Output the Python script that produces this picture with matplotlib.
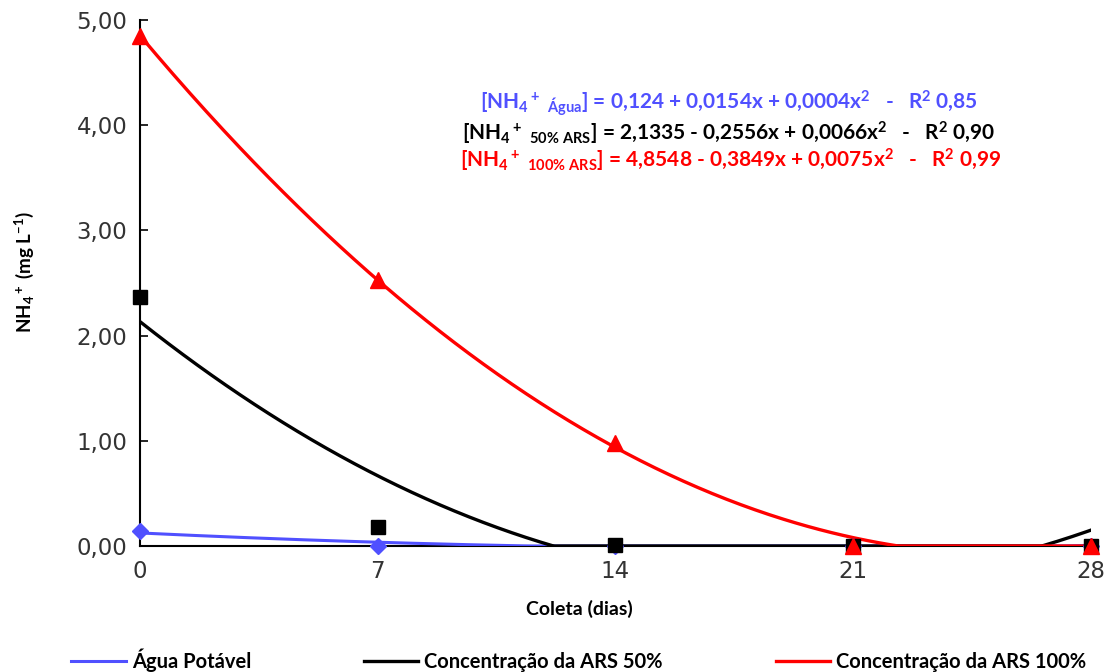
import numpy as np
import matplotlib
matplotlib.use("Agg")
import matplotlib.pyplot as plt

days = [0, 7, 14, 21, 28]
agua = [0.14, 0.0, 0.0, 0.0, 0.0]
ars50 = [2.37, 0.18, 0.01, 0.0, 0.0]
ars100 = [4.85, 2.53, 0.98, 0.0, 0.0]

# trend-line coefficients (c0, c1, c2) as printed on the chart
coef_agua = (0.124, -0.0154, 0.0004)
coef_50 = (2.1335, -0.2556, 0.0066)
coef_100 = (4.8548, -0.3849, 0.0075)

eq_texts = [
    r"[NH$_4$$^+$ $_{Água}$] = 0,124 + 0,0154x + 0,0004x$^2$   -   R$^2$ 0,85",
    r"[NH$_4$$^+$ $_{50\%\ ARS}$] = 2,1335 - 0,2556x + 0,0066x$^2$   -   R$^2$ 0,90",
    r"[NH$_4$$^+$ $_{100\%\ ARS}$] = 4,8548 - 0,3849x + 0,0075x$^2$   -   R$^2$ 0,99",
]
labels = ["Água Potável", "Concentração da ARS 50%", "Concentração da ARS 100%"]
yticks = [0, 1, 2, 3, 4, 5]
ytick_labels = ["0,00", "1,00", "2,00", "3,00", "4,00", "5,00"]

blue = "#5050FF"
red = "#FF0000"
black = "#000000"

plt.rcParams["font.family"] = ["Lato", "DejaVu Sans"]
plt.rcParams["mathtext.fontset"] = "custom"
plt.rcParams["mathtext.rm"] = "Lato:bold"
plt.rcParams["mathtext.it"] = "Lato:bold"
plt.rcParams["mathtext.bf"] = "Lato:bold"
plt.rcParams["mathtext.default"] = "rm"

fig = plt.figure(figsize=(11.11, 6.72), dpi=100)
ax = fig.add_axes([0.126, 0.1875, 0.856, 0.7825])

xs = np.linspace(0, 28, 400)
def trend(c):
    return np.clip(c[0] + c[1] * xs + c[2] * xs ** 2, 0, None)

ax.plot(xs, trend(coef_agua), color=blue, lw=2.2, label=labels[0], zorder=3)
ax.plot(xs, trend(coef_50), color=black, lw=2.4, label=labels[1], zorder=3)
ax.plot(xs, trend(coef_100), color=red, lw=2.4, label=labels[2], zorder=3)

ax.plot(days, agua, ls="none", marker="D", ms=8, color=blue, zorder=4, clip_on=False)
ax.plot(days, ars50, ls="none", marker="s", ms=10, color=black, zorder=4, clip_on=False)
ax.plot(days, ars100, ls="none", marker="^", ms=11, color=red, zorder=5, clip_on=False)

ax.set_xlim(0, 28)
ax.set_ylim(0, 5)
ax.set_xticks(days)
ax.set_xticklabels([str(d) for d in days])
ax.set_yticks(yticks)
ax.set_yticklabels(ytick_labels)
for s in ["top", "right"]:
    ax.spines[s].set_visible(False)
for s in ["left", "bottom"]:
    ax.spines[s].set_linewidth(1.5)
ax.tick_params(axis="y", direction="in", length=6, width=1.2, labelsize=16.5,
               labelcolor="#333333", pad=9)
ax.tick_params(axis="x", length=0, labelsize=16.5, labelcolor="#333333", pad=10)
for t in ax.get_xticklabels() + ax.get_yticklabels():
    t.set_fontfamily(["DejaVu Sans"])

ax.set_xlabel("Coleta (dias)", fontsize=14, fontweight="bold")
ax.xaxis.set_label_coords(0.462, -0.102)
fig.text(0.022, 0.595, r"NH$_4$$^+$ (mg L$^{-1}$)", rotation=90, fontsize=13.5,
         fontweight="bold", ha="center", va="center")

eq_colors = [blue, black, red]
eq_y = [0.847, 0.802, 0.762]
eq_x = [0.656, 0.656, 0.658]
for txt, c, y, x in zip(eq_texts, eq_colors, eq_y, eq_x):
    fig.text(x, y, txt, color=c, fontsize=15, fontweight="bold", ha="center", va="center")

leg = fig.legend(loc="lower left", bbox_to_anchor=(0.048, -0.027), ncol=3,
                 frameon=False, handlelength=2.7, handletextpad=0.3,
                 columnspacing=5.6, prop={"weight": "bold", "size": 14.5})

fig.savefig("out.png", dpi=100)
